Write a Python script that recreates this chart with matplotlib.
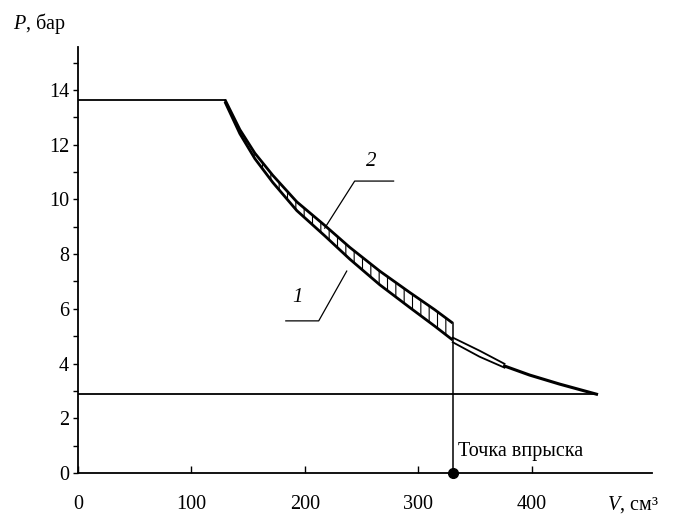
import matplotlib
matplotlib.use('Agg')
import matplotlib.pyplot as plt

plt.rcParams['font.family'] = ['Liberation Serif', 'DejaVu Serif']
plt.rcParams['mathtext.fontset'] = 'custom'
plt.rcParams['mathtext.it'] = 'Liberation Serif:italic'
plt.rcParams['mathtext.rm'] = 'Liberation Serif'
plt.rcParams['hatch.linewidth'] = 0.8

# ---- data ----
band_v = [129.5, 142.7, 155.9, 171.7, 192.9, 217.5, 239.5, 266.0, 292.4, 314.4, 330.3]
curve2_p = [13.65, 12.55, 11.69, 10.88, 9.91, 9.05, 8.25, 7.38, 6.60, 5.97, 5.48]
curve1_p = [13.57, 12.40, 11.49, 10.62, 9.59, 8.67, 7.82, 6.88, 6.05, 5.37, 4.86]
tail_v = [330.3, 354.0, 376.0]
tail2_p = [4.95, 4.47, 3.99]
tail1_p = [4.78, 4.25, 3.85]
merged_v = [376.0, 398.1, 424.5, 457.1]
merged_p = [3.91, 3.58, 3.25, 2.88]

p_high = 13.65
v_high_end = 129.5
p_low = 2.88
v_low_end = 457.1
v_inject = 330.3

leader2_v = [217.5, 243.9, 278.2]
leader2_p = [8.95, 10.67, 10.67]
leader1_v = [236.9, 212.2, 183.2]
leader1_p = [7.38, 5.56, 5.56]

x_ticks = [0, 100, 200, 300, 400]
y_ticks = [0, 2, 4, 6, 8, 10, 12, 14]
y_minor = [1, 3, 5, 7, 9, 11, 13, 15]

fig = plt.figure(figsize=(6.73, 5.16), dpi=100)
ax = fig.add_axes([78/673, 1-473/516, (652-78)/673, (473-47)/516])
ax.set_xlim(0, 506)
ax.set_ylim(0, 15.57)

for s in ['top', 'right']:
    ax.spines[s].set_visible(False)
for s in ['left', 'bottom']:
    ax.spines[s].set_linewidth(1.3)

ax.set_xticks(x_ticks)
ax.set_xticklabels([str(t) for t in x_ticks])
ax.set_yticks(y_ticks)
ax.set_yticklabels([str(t) for t in y_ticks])
ax.set_yticks(y_minor, minor=True)
ax.tick_params(axis='x', direction='in', length=5, width=1, labelsize=14.5, pad=16)
ax.tick_params(axis='y', which='both', direction='out', length=3.5, width=1, labelsize=14.5, pad=3)

# horizontal reference lines
ax.plot([0, v_high_end], [p_high, p_high], color='black', lw=1.3)
ax.plot([0, v_low_end], [p_low, p_low], color='black', lw=1.3)

# hatched band between curves
ax.fill_between(band_v, curve1_p, curve2_p, facecolor='none', edgecolor='black',
                hatch='||', linewidth=0)
ax.plot(band_v, curve2_p, color='black', lw=2.0, solid_capstyle='butt')
ax.plot(band_v, curve1_p, color='black', lw=2.0, solid_capstyle='butt')

# tails after injection
ax.plot(tail_v, tail2_p, color='black', lw=1.3)
ax.plot(tail_v, tail1_p, color='black', lw=1.3)
ax.plot(merged_v, merged_p, color='black', lw=2.2)

# injection point
ax.plot([v_inject, v_inject], [0, curve2_p[-1]], color='black', lw=1.1)
ax.plot([v_inject], [0], 'o', color='black', ms=7, clip_on=False, zorder=5)
ax.text(v_inject + 5, 0.8, 'Точка впрыска', fontsize=14.5, ha='left', va='center')

# leaders
ax.plot(leader2_v, leader2_p, color='black', lw=0.9)
ax.plot(leader1_v, leader1_p, color='black', lw=0.9)
ax.text(258.9, 11.37, '2', fontsize=15, style='italic', ha='center', va='center')
ax.text(193.7, 6.40, '1', fontsize=15, style='italic', ha='center', va='center')

# axis titles
fig.text(13/673, 1-23/516, r'$\mathit{P}$, бар', fontsize=14.5, ha='left', va='center')
fig.text(607/673, 1-505/516, r'$\mathit{V}$, см³', fontsize=14.5, ha='left', va='center')

fig.savefig('out.png', dpi=100)
